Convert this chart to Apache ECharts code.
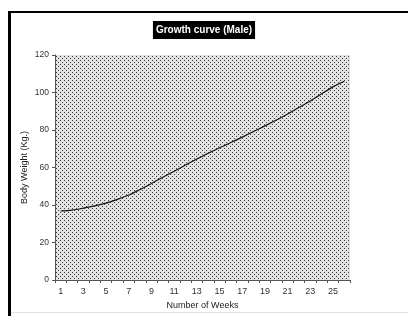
<!DOCTYPE html>
<html>
<head>
<meta charset="utf-8">
<script src="https://cdn.jsdelivr.net/npm/echarts@6/dist/echarts.min.js"></script>
<style>
  html, body { margin: 0; padding: 0; background: #fff; }
  #chart { width: 408px; height: 316px; }
</style>
</head>
<body>
<div id="chart"></div>
<script>
const weeks = ['1', '2', '3', '4', '5', '6', '7', '8', '9', '10', '11', '12', '13',
  '14', '15', '16', '17', '18', '19', '20', '21', '22', '23', '24', '25', '26']
const bodyWeight = [36.8, 37.3, 38.3, 39.5, 41, 43, 45.3, 48.3, 51.5, 54.8, 58, 61.3, 64.5,
  67.6, 70.5, 73.3, 76.2, 79.2, 82.2, 85.3, 88.5, 92, 95.5, 99.3, 103, 106]
const yTicks = [0, 20, 40, 60, 80, 100, 120]

// dotted hatch used by the plot area
const makeHatch = () => {
  const c = document.createElement('canvas')
  c.width = 4
  c.height = 4
  const ctx = c.getContext('2d')
  ctx.fillStyle = '#e2e2e2'
  ctx.fillRect(0, 0, 4, 4)
  ctx.fillStyle = '#3c3c3c'
  ctx.fillRect(0, 0, 1, 1)
  ctx.fillRect(2, 2, 1, 1)
  return c
}

const chart = echarts.init(document.getElementById('chart'))

chart.setOption({
  animation: false,
  backgroundColor: '#fff',
  title: {
    text: 'Growth curve (Male)',
    left: 'center',
    top: 21,
    backgroundColor: '#000',
    padding: [4, 3],
    textStyle: {
      color: '#fff',
      fontFamily: 'Liberation Sans',
      fontWeight: 'bold',
      fontSize: 10
    }
  },
  grid: {
    left: 55,
    right: 58,
    top: 55,
    bottom: 36,
    show: true,
    borderWidth: 0,
    backgroundColor: { image: makeHatch(), repeat: 'repeat' }
  },
  xAxis: {
    type: 'category',
    data: weeks,
    boundaryGap: true,
    name: 'Number of Weeks',
    nameLocation: 'middle',
    nameGap: 18,
    nameTextStyle: { color: '#222', fontSize: 9, fontFamily: 'Liberation Sans' },
    axisLine: { lineStyle: { color: '#555', width: 1 } },
    axisTick: { show: true, length: 3, interval: 0, lineStyle: { color: '#555' } },
    axisLabel: {
      interval: 1,
      color: '#333',
      fontSize: 9,
      fontFamily: 'Liberation Sans',
      margin: 7
    },
    splitLine: { show: false }
  },
  yAxis: {
    type: 'value',
    min: 0,
    max: 120,
    interval: 20,
    name: 'Body Weight (Kg.)',
    nameLocation: 'middle',
    nameGap: 26,
    nameMoveOverlap: false,
    nameTextStyle: { color: '#222', fontSize: 9, fontFamily: 'Liberation Sans' },
    axisLine: { show: true, lineStyle: { color: '#555', width: 1 } },
    axisTick: { show: true, length: 3, lineStyle: { color: '#555' } },
    axisLabel: {
      color: '#333',
      fontSize: 8.5,
      fontFamily: 'Liberation Sans',
      margin: 6,
      formatter: (v) => (yTicks.includes(v) ? String(v) : '')
    },
    splitLine: { show: false }
  },
  series: [
    {
      name: 'Body Weight',
      type: 'line',
      data: bodyWeight,
      smooth: 0.3,
      symbol: 'none',
      lineStyle: { color: '#111', width: 1.2 }
    }
  ],
  graphic: [
    { type: 'rect', shape: { x: 8, y: 11, width: 400, height: 2 }, style: { fill: '#000' } },
    { type: 'rect', shape: { x: 8, y: 11, width: 3, height: 305 }, style: { fill: '#000' } },
    { type: 'rect', shape: { x: 11, y: 312, width: 397, height: 1 }, style: { fill: '#e2e2e2' } }
  ]
})
</script>
</body>
</html>
